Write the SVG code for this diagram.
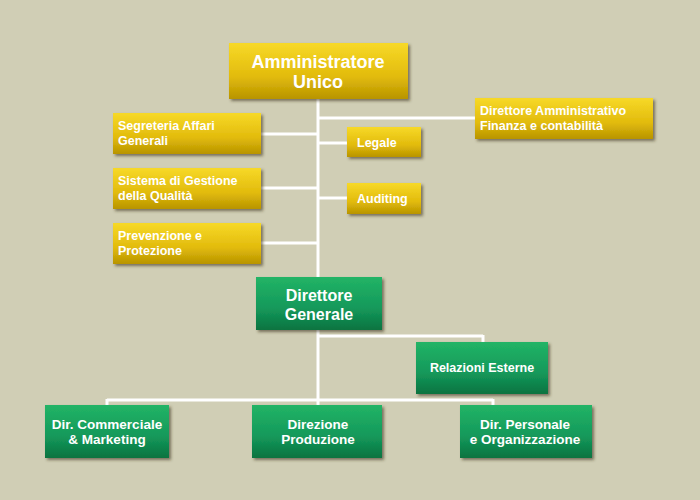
<svg xmlns="http://www.w3.org/2000/svg" width="700" height="500" viewBox="0 0 700 500">
<defs>
<linearGradient id="gold" x1="0" y1="0" x2="0" y2="1"><stop offset="0" stop-color="#f7d928"/><stop offset="0.6" stop-color="#e2bb0c"/><stop offset="1" stop-color="#b89400"/></linearGradient>
<linearGradient id="green" x1="0" y1="0" x2="0" y2="1"><stop offset="0" stop-color="#22b466"/><stop offset="0.6" stop-color="#14985a"/><stop offset="1" stop-color="#0a7340"/></linearGradient>
<filter id="sh" x="-10%" y="-10%" width="130%" height="140%"><feDropShadow dx="2" dy="2" stdDeviation="1.5" flood-color="#3a3520" flood-opacity="0.6"/></filter>
</defs>
<style>
.g{fill:url(#gold);filter:url(#sh)}
.v{fill:url(#green);filter:url(#sh)}
text{font-family:"Liberation Sans",Arial,sans-serif;font-weight:bold;fill:#fff}
.s{font-size:12.5px}
.m{font-size:14px}
.l{font-size:18px}
#connectors line{stroke:#fff;stroke-width:3}
</style>
<rect width="700" height="500" fill="#d0ceb5"/>
<g id="connectors">
<line x1="318" y1="99" x2="318" y2="277"/>
<line x1="318" y1="118" x2="475" y2="118"/>
<line x1="261" y1="134" x2="318" y2="134"/>
<line x1="318" y1="143" x2="347" y2="143"/>
<line x1="261" y1="188" x2="318" y2="188"/>
<line x1="318" y1="198" x2="347" y2="198"/>
<line x1="261" y1="243" x2="318" y2="243"/>
<line x1="318" y1="330" x2="318" y2="405"/>
<line x1="318" y1="336" x2="483" y2="336"/>
<line x1="483" y1="335" x2="483" y2="342"/>
<line x1="107" y1="400" x2="493" y2="400"/>
<line x1="107" y1="399" x2="107" y2="405"/>
<line x1="493" y1="399" x2="493" y2="405"/>
</g>
<g id="amministratore"><rect class="g" x="229" y="43" width="179" height="56"/><text class="l" x="318" y="68" text-anchor="middle">Amministratore</text><text class="l" x="318" y="88" text-anchor="middle">Unico</text></g>
<g id="dir-amm"><rect class="g" x="475" y="98" width="178" height="41"/><text class="s" x="480" y="115">Direttore Amministrativo</text><text class="s" x="480" y="130">Finanza e contabilità</text></g>
<g id="segreteria"><rect class="g" x="113" y="113" width="148" height="41"/><text class="s" x="118" y="130">Segreteria Affari</text><text class="s" x="118" y="145">Generali</text></g>
<g id="legale"><rect class="g" x="347" y="127" width="74" height="30"/><text class="s" x="357" y="147">Legale</text></g>
<g id="sistema"><rect class="g" x="113" y="168" width="148" height="41"/><text class="s" x="118" y="185">Sistema di Gestione</text><text class="s" x="118" y="200">della Qualità</text></g>
<g id="auditing"><rect class="g" x="347" y="183" width="74" height="31"/><text class="s" x="357" y="203">Auditing</text></g>
<g id="prevenzione"><rect class="g" x="113" y="223" width="148" height="41"/><text class="s" x="118" y="240">Prevenzione e</text><text class="s" x="118" y="255">Protezione</text></g>
<g id="dir-generale"><rect class="v" x="256" y="277" width="126" height="53"/><text class="l" x="319" y="301" text-anchor="middle" style="font-size:16px">Direttore</text><text class="l" x="319" y="320" text-anchor="middle" style="font-size:16px">Generale</text></g>
<g id="relazioni"><rect class="v" x="416" y="342" width="132" height="52"/><text class="s" x="482" y="372" text-anchor="middle">Relazioni Esterne</text></g>
<g id="dir-comm"><rect class="v" x="45" y="405" width="124" height="53"/><text class="m" x="107" y="429" text-anchor="middle" style="font-size:13.5px">Dir. Commerciale</text><text class="m" x="107" y="444" text-anchor="middle" style="font-size:13.5px">&amp; Marketing</text></g>
<g id="direzione"><rect class="v" x="252" y="405" width="130" height="53"/><text class="m" x="318" y="429" text-anchor="middle" style="font-size:13.5px">Direzione</text><text class="m" x="318" y="444" text-anchor="middle" style="font-size:13.5px">Produzione</text></g>
<g id="dir-pers"><rect class="v" x="460" y="405" width="132" height="53"/><text class="m" x="525" y="429" text-anchor="middle" style="font-size:13.5px">Dir. Personale</text><text class="m" x="525" y="444" text-anchor="middle" style="font-size:13.5px">e Organizzazione</text></g>
</svg>
